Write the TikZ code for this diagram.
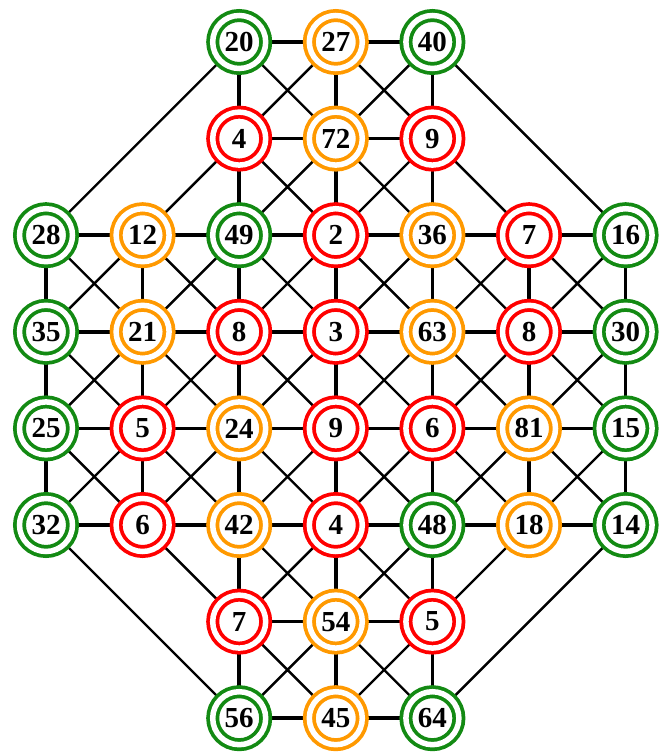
\documentclass[tikz,border=0pt]{standalone}
\usepackage{fontspec}
\setmainfont{Liberation Serif}
\usetikzlibrary{backgrounds}
\definecolor{grn}{HTML}{138A13}
\definecolor{org}{HTML}{FF9900}
\definecolor{rd}{HTML}{FF0000}
\tikzset{
  every picture/.style={x=0.02cm,y=-0.02cm,line cap=round},
  % double ring: two coloured circles with a white band between
  ring/.style={circle, draw=#1, fill=white, line width=0.075cm,
    double=white, double distance=0.11cm, minimum size=1.06cm,
    inner sep=0pt, font=\fontsize{16.5}{18}\selectfont\bfseries},
  link/.style={line width=0.075cm},
  cross/.style={line width=0.048cm},
}
\begin{document}
\begin{tikzpicture}
\useasboundingbox (0,0) rectangle (659,753);
\foreach \c/\r/\v/\k in {
  2/0/20/grn, 3/0/27/org, 4/0/40/grn,
  2/1/4/rd, 3/1/72/org, 4/1/9/rd,
  0/2/28/grn, 1/2/12/org, 2/2/49/grn, 3/2/2/rd, 4/2/36/org, 5/2/7/rd, 6/2/16/grn,
  0/3/35/grn, 1/3/21/org, 2/3/8/rd, 3/3/3/rd, 4/3/63/org, 5/3/8/rd, 6/3/30/grn,
  0/4/25/grn, 1/4/5/rd, 2/4/24/org, 3/4/9/rd, 4/4/6/rd, 5/4/81/org, 6/4/15/grn,
  0/5/32/grn, 1/5/6/rd, 2/5/42/org, 3/5/4/rd, 4/5/48/grn, 5/5/18/org, 6/5/14/grn,
  2/6/7/rd, 3/6/54/org, 4/6/5/rd,
  2/7/56/grn, 3/7/45/org, 4/7/64/grn}
  \node[ring=\k] (n\c\r) at ({46+96.6*\c},{42+96.6*\r}) {\v};
\begin{scope}[on background layer]
% rows and columns
\foreach \r in {2,...,5}
  \foreach \c in {0,...,5}{
    \pgfmathtruncatemacro\d{\c+1}
    \draw[link] (n\c\r) -- (n\d\r);}
\foreach \r in {0,1,6,7}
  \foreach \c in {2,3}{
    \pgfmathtruncatemacro\d{\c+1}
    \draw[link] (n\c\r) -- (n\d\r);}
\foreach \c in {2,3,4}
  \foreach \r in {0,...,6}{
    \pgfmathtruncatemacro\s{\r+1}
    \draw[link] (n\c\r) -- (n\c\s);}
\foreach \c in {0,1,5,6}
  \foreach \r in {2,3,4}{
    \pgfmathtruncatemacro\s{\r+1}
    \draw[link] (n\c\r) -- (n\c\s);}
% diagonals
\foreach \r in {2,3,4}
  \foreach \c in {0,1,4,5}{
    \pgfmathtruncatemacro\d{\c+1}
    \pgfmathtruncatemacro\s{\r+1}
    \draw[cross] (n\c\r) -- (n\d\s) (n\d\r) -- (n\c\s);}
\foreach \r in {0,...,6}
  \foreach \c in {2,3}{
    \pgfmathtruncatemacro\d{\c+1}
    \pgfmathtruncatemacro\s{\r+1}
    \draw[cross] (n\c\r) -- (n\d\s) (n\d\r) -- (n\c\s);}
\draw[cross] (n21) -- (n12) (n41) -- (n52) (n15) -- (n26) (n55) -- (n46)
  (n20) -- (n02) (n40) -- (n62) (n05) -- (n27) (n65) -- (n47);
\end{scope}
\end{tikzpicture}
\end{document}
